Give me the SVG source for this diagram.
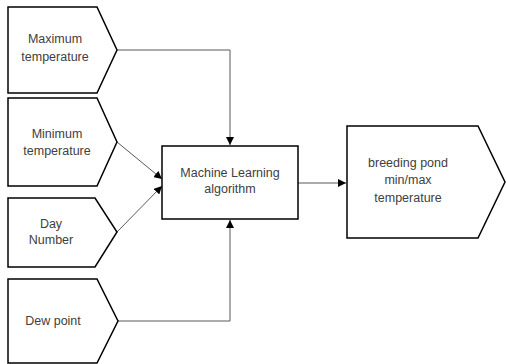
<svg xmlns="http://www.w3.org/2000/svg" width="506" height="364" viewBox="0 0 506 364">
<defs>
<style>
.shape{fill:#fff;stroke:#000;stroke-width:1.5}
.conn{fill:none;stroke:#595959;stroke-width:1}
text{font-family:"Liberation Sans",Arial,sans-serif;font-size:12.5px;fill:#404040;text-anchor:middle}
</style>
<marker id="arr" viewBox="0 0 10 10" refX="10" refY="5" markerWidth="8" markerHeight="8" markerUnits="userSpaceOnUse" orient="auto">
<path d="M0,0 L10,5 L0,10 z" fill="#000"/>
</marker>
</defs>
<rect width="506" height="364" fill="#fff"/>
<g id="connectors">
<path class="conn" d="M117,50 H230 V145" marker-end="url(#arr)"/>
<path class="conn" d="M117,142 L162,179" marker-end="url(#arr)"/>
<path class="conn" d="M117,232 L162,186" marker-end="url(#arr)"/>
<path class="conn" d="M118,321 H230 V220" marker-end="url(#arr)"/>
<path class="conn" d="M298,183 H346" marker-end="url(#arr)"/>
</g>
<g id="max-temp">
<path class="shape" d="M8,7 H97 L117,50 L97,93 H8 Z"/>
<text x="55" y="43">Maximum</text>
<text x="55" y="61">temperature</text>
</g>
<g id="min-temp">
<path class="shape" d="M8,98 H97 L117,142 L97,186 H8 Z"/>
<text x="57" y="138">Minimum</text>
<text x="57" y="155">temperature</text>
</g>
<g id="day-number">
<path class="shape" d="M8,198 H95 L117,232 L95,267 H8 Z"/>
<text x="51" y="228">Day</text>
<text x="51" y="244">Number</text>
</g>
<g id="dew-point">
<path class="shape" d="M8,279 H97 L118,321 L97,363 H8 Z"/>
<text x="53" y="325">Dew point</text>
</g>
<g id="ml-algorithm">
<rect class="shape" x="162" y="146" width="136" height="73"/>
<text x="230" y="177">Machine Learning</text>
<text x="230" y="193">algorithm</text>
</g>
<g id="output">
<path class="shape" d="M347,126 H478 L505,182 L478,238 H347 Z"/>
<text x="408" y="167">breeding pond</text>
<text x="408" y="184">min/max</text>
<text x="408" y="202">temperature</text>
</g>
</svg>
